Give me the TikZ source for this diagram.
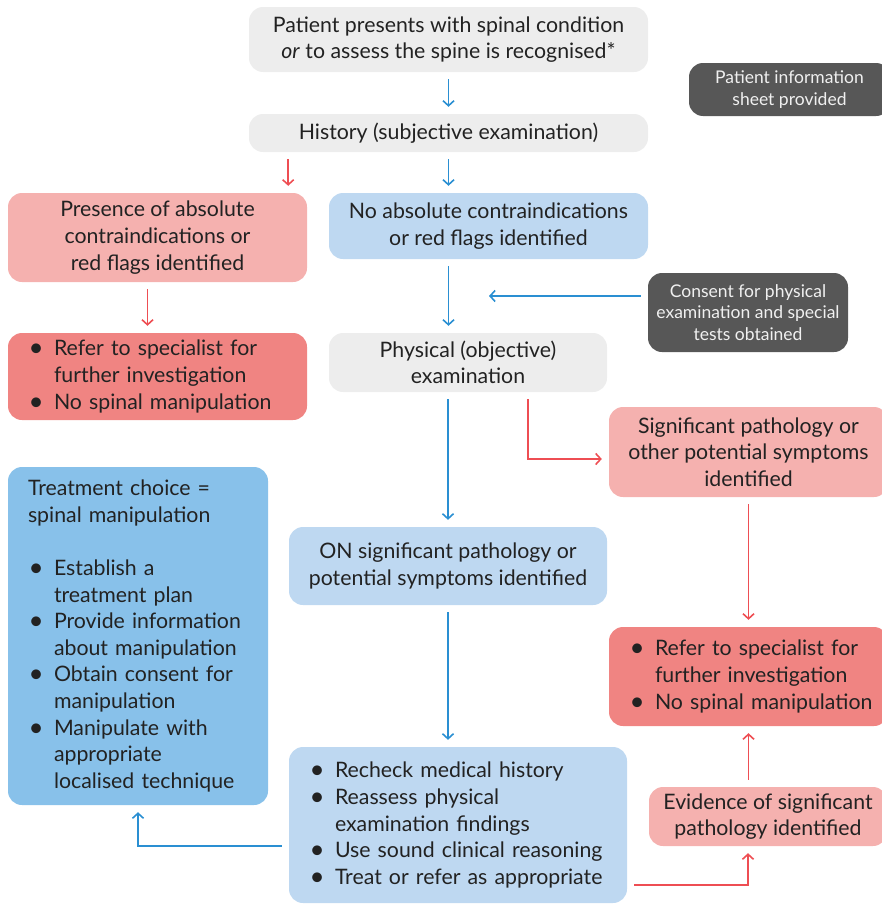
\documentclass[tikz,border=0pt]{standalone}
\usepackage{fontspec}
\setmainfont{Lato}
\usepackage{xcolor}
\usetikzlibrary{arrows.meta}
\definecolor{ink}{HTML}{222222}
\definecolor{boxgrey}{HTML}{EDEDED}
\definecolor{slate}{HTML}{575757}
\definecolor{blush}{HTML}{F5B1AF}
\definecolor{coral}{HTML}{F08482}
\definecolor{mist}{HTML}{BED8F1}
\definecolor{sky}{HTML}{88C1EA}
\definecolor{flowblue}{HTML}{2A8FD2}
\definecolor{flowred}{HTML}{EE4E53}
\hyphenpenalty=10000
\newcommand{\bl}{\makebox[26pt][l]{\hspace{0.5pt}\raisebox{-1pt}{\fontsize{26}{0}\selectfont\textbullet}}}
\newcommand{\ind}{\hspace*{26pt}}

\begin{document}
\begin{tikzpicture}[x=1pt,y=-1pt,every node/.style={font=\fontsize{21.3}{26.6}\selectfont,text=ink,align=center,inner sep=0pt},box/.style={rounded corners=14pt},grey/.style={box,fill=boxgrey},note/.style={box,fill=slate,text=white!94!black,font=\fontsize{17.5}{21.5}\selectfont},pink/.style={box,fill=blush},red/.style={box,fill=coral,align=left},pale/.style={box,fill=mist},deep/.style={box,fill=sky,align=left},arrow/.style={-{Straight Barb[length=5pt,width=11pt]},line width=1.6pt,shorten <=7pt,shorten >=7pt},bluearrow/.style={arrow,flowblue},redarrow/.style={arrow,flowred}]
\useasboundingbox (0,0) rectangle (881,905);
% boxes
\node[grey,minimum width=399pt,minimum height=65pt] (start) at (448.5,39.5) {Patient presents with spinal condition\\\textit{or} to assess the spine is recognised*};
\node[grey,minimum width=399pt,minimum height=38pt] (hist) at (448.5,133) {History (subjective examination)};
\node[note,minimum width=201pt,minimum height=53pt] (info) at (789.5,89.5) {Patient information\\sheet provided};
\node[pink,minimum width=299pt,minimum height=89pt] (flags) at (157.5,237.5) {Presence of absolute\\contraindications or\\red flags identified};
\node[pale,minimum width=319pt,minimum height=66pt] (noflags) at (488.5,226) {No absolute contraindications\\or red flags identified};
\node[red,minimum width=299pt,minimum height=87pt,text width=259pt] (referl) at (157.5,376.5) {\bl Refer to specialist for\\\ind further investigation\\\bl No spinal manipulation};
\node[note,minimum width=200pt,minimum height=79pt] (consent) at (748,312.5) {Consent for physical\\examination and special\\tests obtained};
\node[grey,minimum width=278pt,minimum height=59pt] (phys) at (468,362.5) {Physical (objective)\\examination};
\node[pink,minimum width=279pt,minimum height=90pt] (sig) at (748.5,452) {Significant pathology or\\other potential symptoms\\identified};
\node[deep,minimum width=260pt,minimum height=338pt,text width=220pt] (treat) at (138,636) {Treatment choice =\\spinal manipulation\\[26.6pt]\bl Establish a\\\ind treatment plan\\\bl Provide information\\\ind about manipulation\\\bl Obtain consent for\\\ind manipulation\\\bl Manipulate with\\\ind appropriate\\\ind localised technique};
\node[pale,minimum width=318pt,minimum height=78pt] (nosig) at (448,566) {ON significant pathology or\\potential symptoms identified};
\node[red,minimum width=279pt,minimum height=99pt,text width=239pt] (referr) at (748.5,676.5) {\bl Refer to specialist for\\\ind further investigation\\\bl \mbox{No spinal manipulation}};
\node[pale,align=left,minimum width=338pt,minimum height=156pt,text width=298pt] (recheck) at (458,825) {\bl Recheck medical history\\\bl Reassess physical\\\ind examination findings\\\bl Use sound clinical reasoning\\\bl Treat or refer as appropriate};
\node[pink,minimum width=238pt,minimum height=59pt] (evid) at (768,816.5) {Evidence of significant\\pathology identified};
\coordinate (join) at (489,296);
% connectors
\draw[bluearrow] (start) -- (hist);
\draw[redarrow] ([xshift=-19pt]flags.north east |- hist.south) -- ([xshift=-19pt]flags.north east);
\draw[bluearrow] (hist.south) -- (hist.south |- noflags.north);
\draw[redarrow] ([xshift=-10pt]flags.south) -- ([xshift=-10pt]referl.north);
\draw[bluearrow] (hist.south |- noflags.south) -- (hist.south |- phys.north);
\draw[bluearrow,shorten >=0pt] (consent.west |- join) -- (join);
\draw[redarrow] ([xshift=60pt]phys.south) |- ([yshift=-7pt]sig.west);
\draw[bluearrow] (nosig.north |- phys.south) -- (nosig.north);
\draw[redarrow] (sig.south -| referr.north) -- (referr.north);
\draw[bluearrow] (nosig.south) -- (nosig.south |- recheck.north);
\draw[bluearrow] ([yshift=-21pt]recheck.west) -| (treat.south);
\draw[redarrow] ([yshift=-60pt]recheck.east) -| ([xshift=-20pt]evid.south);
\draw[redarrow] (evid.north -| referr.south) -- (referr.south);
\end{tikzpicture}
\end{document}
